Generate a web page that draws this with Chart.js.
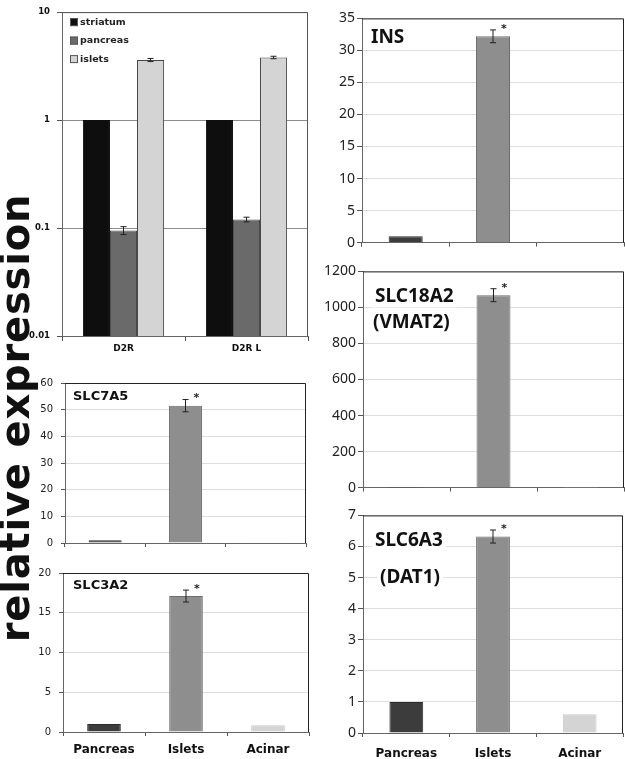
<!DOCTYPE html>
<html>
<head>
<meta charset="utf-8">
<script src="https://cdn.jsdelivr.net/npm/chart.js@4"></script>
<style>
  body { margin: 0; background: #fff; width: 625px; height: 759px; position: relative; overflow: hidden; }
  canvas { position: absolute; }
  #ytitle {
    position: absolute; left: -233px; top: 393px; width: 500px; height: 50px; line-height: 50px;
    text-align: center; transform: rotate(-90deg); z-index: 5;
    font: bold 40px "DejaVu Sans", Verdana, sans-serif; letter-spacing: 0.8px; color: #111;
  }
</style>
</head>
<body>
<div id="ytitle">relative expression</div>
<canvas id="d2" width="310" height="358" style="left:0px;top:0px"></canvas>
<canvas id="lat1" width="290" height="188" style="left:20px;top:369px"></canvas>
<canvas id="cd98" width="293" height="200" style="left:20px;top:559px"></canvas>
<canvas id="ins" width="303" height="245" style="left:322px;top:8px"></canvas>
<canvas id="vmat2" width="303" height="237" style="left:322px;top:261px"></canvas>
<canvas id="dat1" width="303" height="254" style="left:322px;top:505px"></canvas>
<script>
// ---- data ----
const tissues = ['Pancreas', 'Islets', 'Acinar'];
const receptors = ['D2R', 'D2R L'];
const d2Names = ['striatum', 'pancreas', 'islets'];
const d2Striatum = [1, 1];
const d2Pancreas = [0.095, 0.12];
const d2Islets = [3.6, 3.8];
const d2PancreasErr = [0.008, 0.006];
const d2IsletsErr = [0.12, 0.1];
const logTicks = [0.01, 0.1, 1, 10];

const insValues = [1.0, 32.2, 0.1];
const insErr = [0, 1.0, 0];
const vmat2Values = [1, 1068, 0.3];
const vmat2Err = [0, 36, 0];
const dat1Values = [1.0, 6.32, 0.6];
const dat1Err = [0, 0.21, 0];
const slc7a5Values = [1.0, 51.5, 0.3];
const slc7a5Err = [0, 2.3, 0];
const slc3a2Values = [1.0, 17.1, 0.85];
const slc3a2Err = [0, 0.75, 0];

const tissueFill = ['#3c3c3c', '#8e8e8e', '#d4d4d4'];
const tissueEdge = ['#2a2a2a', '#6c6c6c', '#c6c6c6'];

Chart.defaults.font.family = "'DejaVu Sans', Verdana, sans-serif";
Chart.defaults.color = '#222';
Chart.defaults.animation = false;

// error bars + significance star
const errorBars = {
  id: 'errorBars',
  afterDatasetsDraw(chart, args, opts) {
    const ctx = chart.ctx, y = chart.scales.y;
    (opts.errors || []).forEach((errs, di) => {
      const meta = chart.getDatasetMeta(di);
      const vals = chart.data.datasets[di].data;
      errs.forEach((e, i) => {
        if (!e) return;
        const x = meta.data[i].x;
        const top = y.getPixelForValue(vals[i] + e);
        const bot = y.getPixelForValue(vals[i] - e);
        ctx.save();
        ctx.strokeStyle = '#222';
        ctx.lineWidth = 1;
        ctx.beginPath();
        ctx.moveTo(x, top); ctx.lineTo(x, bot);
        ctx.moveTo(x - 3, top); ctx.lineTo(x + 3, top);
        ctx.moveTo(x - 3, bot); ctx.lineTo(x + 3, bot);
        ctx.stroke();
        if (opts.star === i) {
          ctx.fillStyle = '#222';
          ctx.font = "bold 11px 'DejaVu Sans'";
          ctx.textAlign = 'center';
          ctx.textBaseline = 'middle';
          ctx.fillText('*', x + 11, top - 1);
        }
        ctx.restore();
      });
    });
  }
};

// top/right frame, panel title, inner legend
const panelDeco = {
  id: 'panelDeco',
  afterDraw(chart, args, opts) {
    const ctx = chart.ctx, a = chart.chartArea;
    ctx.save();
    ctx.strokeStyle = opts.frameColor || '#222';
    ctx.lineWidth = 1;
    ctx.beginPath();
    ctx.moveTo(a.left, a.top + 0.5); ctx.lineTo(a.right - 0.5, a.top + 0.5); ctx.lineTo(a.right - 0.5, a.bottom);
    ctx.stroke();
    (opts.title || []).forEach(t => {
      ctx.font = opts.titleFont;
      ctx.textBaseline = 'middle';
      const w = ctx.measureText(t.text).width;
      ctx.fillStyle = '#fff';
      ctx.fillRect(a.left + t.dx - 3, a.top + t.dy - 11, w + 6, 22);
      ctx.fillStyle = '#111';
      ctx.fillText(t.text, a.left + t.dx, a.top + t.dy);
    });
    if (opts.legend) {
      chart.data.datasets.forEach((ds, i) => {
        const yy = a.top + 10 + i * 18.5;
        ctx.fillStyle = ds.backgroundColor;
        ctx.strokeStyle = '#555';
        ctx.fillRect(a.left + 8, yy - 4, 8, 8);
        ctx.strokeRect(a.left + 8.5, yy - 3.5, 7, 7);
        ctx.fillStyle = '#222';
        ctx.font = "bold 9.5px 'DejaVu Sans'";
        ctx.textBaseline = 'middle';
        ctx.fillText(ds.label, a.left + 18, yy);
      });
    }
    ctx.restore();
  }
};

function tissuePanel(id, values, errs, o) {
  new Chart(document.getElementById(id), {
    type: 'bar',
    data: {
      labels: tissues,
      datasets: [{
        data: values,
        backgroundColor: tissueFill,
        borderColor: tissueEdge,
        borderWidth: 1,
        barPercentage: o.barPct,
        categoryPercentage: 1
      }]
    },
    options: {
      responsive: false,
      layout: { padding: { top: 8, right: o.padRight, left: 0, bottom: 0 } },
      plugins: {
        legend: { display: false },
        tooltip: { enabled: false },
        errorBars: { errors: [errs], star: 1 },
        panelDeco: { title: o.title, titleFont: o.titleFont }
      },
      scales: {
        x: {
          grid: { offset: true, drawOnChartArea: false, tickLength: 4, tickColor: '#555' },
          border: { color: '#666' },
          ticks: {
            display: o.showX, padding: o.xPad, maxRotation: 0,
            font: { size: 12, weight: 'bold' }, color: '#111'
          },
          afterFit(s) { s.height = o.xH; }
        },
        y: {
          min: 0, max: o.max,
          grid: { color: '#dedede', tickLength: o.tickLen, tickColor: '#555' },
          border: { color: '#666' },
          ticks: { stepSize: o.step, padding: o.yPad, font: o.yFont, color: '#222', callback: v => String(v) },
          afterFit(s) { s.width = o.yW; }
        }
      }
    },
    plugins: [errorBars, panelDeco]
  });
}

const leftTick = { size: 10, family: "'DejaVu Sans'" };
const rightTick = { size: 14, family: "'Noto Sans'" };
const leftTitle = "bold 13px 'DejaVu Sans'";
const rightTitle = "bold 19px 'Noto Sans'";

tissuePanel('lat1', slc7a5Values, slc7a5Err, {
  max: 60, step: 10, yW: 45, xH: 8, padRight: 4, barPct: 0.41, showX: false, xPad: 0,
  tickLen: 4, yPad: 8, yFont: leftTick, titleFont: leftTitle,
  title: [{ text: 'SLC7A5', dx: 8, dy: 14 }]
});
tissuePanel('cd98', slc3a2Values, slc3a2Err, {
  max: 20, step: 5, yW: 43, xH: 27, padRight: 4, barPct: 0.41, showX: true, xPad: 7,
  tickLen: 4, yPad: 8, yFont: leftTick, titleFont: leftTitle,
  title: [{ text: 'SLC3A2', dx: 10, dy: 13 }]
});
tissuePanel('ins', insValues, insErr, {
  max: 35, step: 5, yW: 40, xH: 8, padRight: 1, barPct: 0.39, showX: false, xPad: 0,
  tickLen: 5, yPad: 2, yFont: rightTick, titleFont: rightTitle,
  title: [{ text: 'INS', dx: 9, dy: 19 }]
});
tissuePanel('vmat2', vmat2Values, vmat2Err, {
  max: 1200, step: 200, yW: 41, xH: 8, padRight: 1, barPct: 0.39, showX: false, xPad: 0,
  tickLen: 5, yPad: 2, yFont: rightTick, titleFont: rightTitle,
  title: [{ text: 'SLC18A2', dx: 12, dy: 25 }, { text: '(VMAT2)', dx: 10, dy: 51 }]
});
tissuePanel('dat1', dat1Values, dat1Err, {
  max: 7, step: 1, yW: 41, xH: 26, padRight: 2, barPct: 0.39, showX: true, xPad: 10,
  tickLen: 5, yPad: 2, yFont: rightTick, titleFont: rightTitle,
  title: [{ text: 'SLC6A3', dx: 12, dy: 25 }, { text: '(DAT1)', dx: 17, dy: 62 }]
});

// log-scale D2R panel
new Chart(document.getElementById('d2'), {
  type: 'bar',
  data: {
    labels: receptors,
    datasets: [
      { label: d2Names[0], data: d2Striatum, backgroundColor: '#0e0e0e', borderColor: '#0e0e0e', borderWidth: 1 },
      { label: d2Names[1], data: d2Pancreas, backgroundColor: '#6a6a6a', borderColor: '#4a4a4a', borderWidth: 1 },
      { label: d2Names[2], data: d2Islets, backgroundColor: '#d4d4d4', borderColor: '#444', borderWidth: 1 }
    ]
  },
  options: {
    responsive: false,
    datasets: { bar: { barPercentage: 1, categoryPercentage: 0.66 } },
    layout: { padding: { top: 7, right: 2, left: 0, bottom: 0 } },
    plugins: {
      legend: { display: false },
      tooltip: { enabled: false },
      errorBars: { errors: [[0, 0], d2PancreasErr, d2IsletsErr] },
      panelDeco: { legend: true, frameColor: '#555' }
    },
    scales: {
      x: {
        grid: { offset: true, drawOnChartArea: false, tickLength: 5, tickColor: '#555' },
        border: { color: '#666' },
        ticks: { padding: 2, maxRotation: 0, font: { size: 9, weight: 'bold' }, color: '#111' },
        afterFit(s) { s.height = 22; }
      },
      y: {
        type: 'logarithmic', min: 0.01, max: 10,
        afterBuildTicks(s) { s.ticks = logTicks.map(v => ({ value: v })); },
        grid: { color: '#8c8c8c', tickLength: 5, tickColor: '#555' },
        border: { color: '#666' },
        ticks: { padding: 7, font: { size: 8.5, weight: 'bold' }, color: '#111', callback: v => String(v) },
        afterFit(s) { s.width = 62; }
      }
    }
  },
  plugins: [errorBars, panelDeco]
});
</script>
</body>
</html>
